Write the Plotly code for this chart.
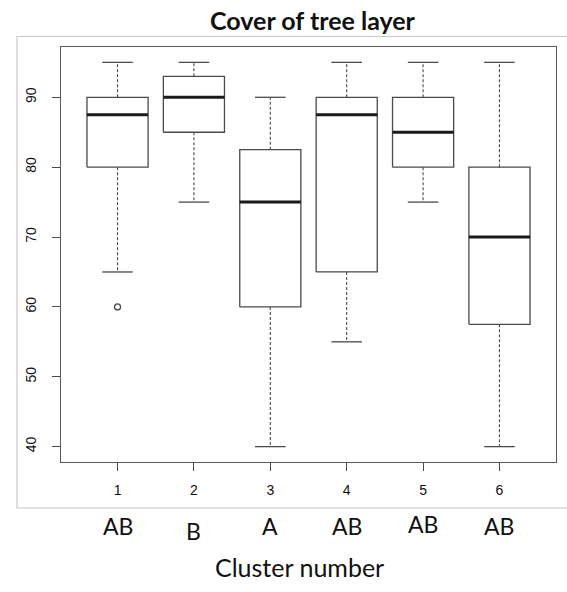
import plotly.graph_objects as go

# ---- data ----
clusters = [1, 2, 3, 4, 5, 6]
lower_whisker = [65, 75, 40, 55, 75, 40]
q1 = [80, 85, 60, 65, 80, 57.5]
median = [87.5, 90, 75, 87.5, 85, 70]
q3 = [90, 93, 82.5, 90, 90, 80]
upper_whisker = [95, 95, 90, 95, 95, 95]
outlier_x = [1]
outlier_y = [60]
group_letters = ["AB", "B", "A", "AB", "AB", "AB"]
y_ticks = [40, 50, 60, 70, 80, 90]

# ---- styling ----
BOX_HALF = 0.4
CAP_HALF = 0.2
LINE_COL = "#4a4a4a"
MED_COL = "#1a1a1a"
letter_shift = {2: -5, 5: 2}

# plot area geometry in px (for paper conversions)
L, R, T, B = 61, 556, 47, 462
W, H = 567, 592
def px(x):
    return (x - L) / (R - L)
def py(y):
    return (B - y) / (B - T)

fig = go.Figure()

for i, c in enumerate(clusters):
    # box
    fig.add_trace(go.Scatter(
        x=[c - BOX_HALF, c + BOX_HALF, c + BOX_HALF, c - BOX_HALF, c - BOX_HALF],
        y=[q1[i], q1[i], q3[i], q3[i], q1[i]],
        mode="lines", line=dict(color=LINE_COL, width=1.3),
        hoverinfo="skip", showlegend=False))
    # whiskers (dashed)
    fig.add_trace(go.Scatter(
        x=[c, c, None, c, c],
        y=[q3[i], upper_whisker[i], None, q1[i], lower_whisker[i]],
        mode="lines", line=dict(color=LINE_COL, width=1.1, dash="3px,2px"),
        hoverinfo="skip", showlegend=False))
    # caps
    fig.add_trace(go.Scatter(
        x=[c - CAP_HALF, c + CAP_HALF, None, c - CAP_HALF, c + CAP_HALF],
        y=[upper_whisker[i], upper_whisker[i], None, lower_whisker[i], lower_whisker[i]],
        mode="lines", line=dict(color=LINE_COL, width=1.3),
        hoverinfo="skip", showlegend=False))
    # median
    fig.add_trace(go.Scatter(
        x=[c - BOX_HALF, c + BOX_HALF], y=[median[i], median[i]],
        mode="lines", line=dict(color=MED_COL, width=3),
        hoverinfo="skip", showlegend=False))

# outliers
fig.add_trace(go.Scatter(
    x=outlier_x, y=outlier_y, mode="markers",
    marker=dict(symbol="circle-open", size=6, color=LINE_COL, line=dict(width=1.3)),
    hoverinfo="skip", showlegend=False))

# significance letters
for i, c in enumerate(clusters):
    fig.add_annotation(
        x=c, xref="x", y=py(526 - letter_shift.get(c, 0)), yref="paper",
        text=group_letters[i], showarrow=False, xanchor="center", yanchor="middle",
        font=dict(family="Lato", size=23, color="#111111"))

# title and x label
fig.add_annotation(
    x=px(312.5), xref="paper", y=py(20), yref="paper",
    text="<b>Cover of tree layer</b>", showarrow=False,
    xanchor="center", yanchor="middle",
    font=dict(family="Lato", size=25, color="#111111"))
fig.add_annotation(
    x=px(299), xref="paper", y=py(567), yref="paper",
    text="Cluster number", showarrow=False,
    xanchor="center", yanchor="middle",
    font=dict(family="Lato", size=25, color="#111111"))

# outer light frame (image border)
fig.add_shape(type="path", xref="paper", yref="paper",
              path=f"M {px(600)} {py(36.5)} L {px(17)} {py(36.5)} L {px(17)} {py(508)} L {px(600)} {py(508)}",
              line=dict(color="#c8c8c8", width=1.2))

fig.update_layout(
    width=W, height=H,
    margin=dict(l=L, r=W - R, t=T, b=H - B),
    paper_bgcolor="white", plot_bgcolor="white",
    showlegend=False,
)
fig.update_xaxes(
    range=[0.26, 6.74], tickmode="array", tickvals=clusters,
    ticktext=[str(c) for c in clusters],
    ticks="outside", ticklen=8, tickcolor=LINE_COL, tickwidth=1.2,
    showline=True, linecolor="#5a5a5a", linewidth=1.3, mirror=True,
    showgrid=False, zeroline=False,
    tickfont=dict(family="Liberation Sans", size=14, color="#111111"),
    ticklabelstandoff=7,
)
fig.update_yaxes(
    range=[37.8, 97.2], tickmode="array", tickvals=y_ticks,
    ticks="outside", ticklen=8, tickcolor=LINE_COL, tickwidth=1.2,
    showline=True, linecolor="#5a5a5a", linewidth=1.3, mirror=True,
    showgrid=False, zeroline=False, tickangle=-90,
    tickfont=dict(family="Liberation Sans", size=14, color="#111111"),
    ticklabelstandoff=10,
)

fig.write_html("out.html", config={"displayModeBar": False},
               post_script="document.body.style.margin='0';")
